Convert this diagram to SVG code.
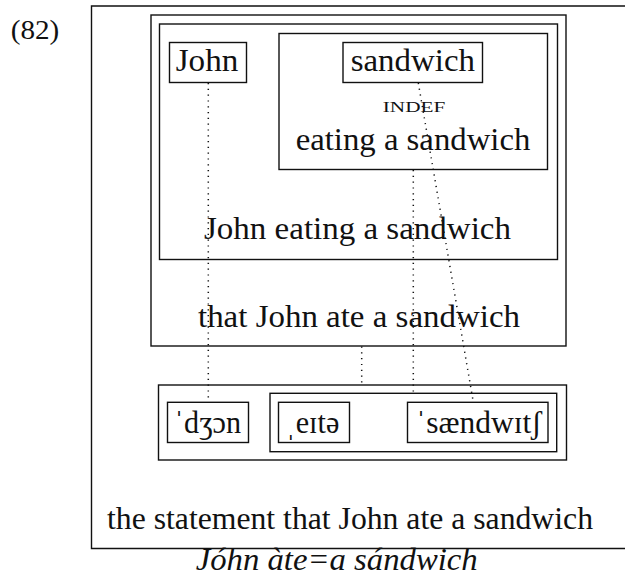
<svg xmlns="http://www.w3.org/2000/svg" width="625" height="584" viewBox="0 0 625 584">
  <style>
    .box { fill: none; stroke: #111; stroke-width: 1.4; }
    .t { font-family: "Liberation Serif", "DejaVu Serif", serif; font-size: 31.5px; fill: #111; }
    .sc { font-size: 15.5px; }
    .it { font-style: italic; }
    .link { fill: none; stroke: #111; stroke-width: 1.5; stroke-dasharray: 1.2 4.6; }
  </style>

  <text class="t" x="10.7" y="39" style="font-size:27px" textLength="48.6" lengthAdjust="spacingAndGlyphs">(82)</text>

  <!-- semantic side -->
  <g id="statement">
    <path class="box" d="M640 6 H91.5 V548.5 H640"/>
    <text class="t" x="107" y="529" textLength="486" lengthAdjust="spacingAndGlyphs">the statement that John ate a sandwich</text>
  </g>
  <g id="that-clause">
    <rect class="box" x="151" y="15" width="415" height="331"/>
    <text class="t" x="198" y="326.7" textLength="322" lengthAdjust="spacingAndGlyphs">that John ate a sandwich</text>
  </g>
  <g id="john-eating">
    <rect class="box" x="159.5" y="24" width="398" height="235.5"/>
    <text class="t" x="204" y="239.3" textLength="307" lengthAdjust="spacingAndGlyphs">John eating a sandwich</text>
  </g>
  <g id="eating">
    <rect class="box" x="279" y="33.5" width="268.5" height="136"/>
    <text class="t sc" x="382.8" y="111.7" textLength="62.5" lengthAdjust="spacingAndGlyphs">INDEF</text>
    <text class="t" x="295.7" y="150" textLength="234.6" lengthAdjust="spacingAndGlyphs">eating a sandwich</text>
  </g>
  <g id="john">
    <rect class="box" x="169.5" y="42.5" width="77" height="40"/>
    <text class="t" x="175.7" y="70.7" textLength="62.6" lengthAdjust="spacingAndGlyphs">John</text>
  </g>
  <g id="sandwich">
    <rect class="box" x="343" y="42.5" width="139.5" height="40"/>
    <text class="t" x="350.7" y="71" textLength="124.3" lengthAdjust="spacingAndGlyphs">sandwich</text>
  </g>

  <!-- phonological side -->
  <g id="phon-sentence">
    <rect class="box" x="158.5" y="385" width="408" height="75"/>
  </g>
  <g id="phon-vp">
    <rect class="box" x="270" y="393.3" width="286.7" height="58.4"/>
  </g>
  <g id="phon-john">
    <rect class="box" x="167.5" y="402.3" width="81" height="40.2"/>
    <text class="t" x="174" y="432.7" textLength="67" lengthAdjust="spacingAndGlyphs">ˈdʒɔn</text>
  </g>
  <g id="phon-ate">
    <rect class="box" x="278.5" y="402.3" width="71" height="40.2"/>
    <text class="t" x="285.7" y="432.7" textLength="53.6" lengthAdjust="spacingAndGlyphs">ˌeɪtə</text>
  </g>
  <g id="phon-sandwich">
    <rect class="box" x="407.5" y="402.3" width="140.5" height="40.2"/>
    <text class="t" x="415.7" y="432.7" textLength="126" lengthAdjust="spacingAndGlyphs">ˈsændwɪtʃ</text>
  </g>

  <text class="t it" x="195.7" y="570" textLength="282" lengthAdjust="spacingAndGlyphs">Jóhn àte=a sándwich</text>

  <!-- correspondence links -->
  <g id="links">
    <line class="link" x1="208.3" y1="83" x2="208.3" y2="402"/>
    <line class="link" x1="413.3" y1="170" x2="413.3" y2="393"/>
    <line class="link" x1="418.3" y1="83" x2="473.3" y2="402"/>
    <line class="link" x1="361.7" y1="346.5" x2="361.7" y2="385"/>
  </g>
</svg>
